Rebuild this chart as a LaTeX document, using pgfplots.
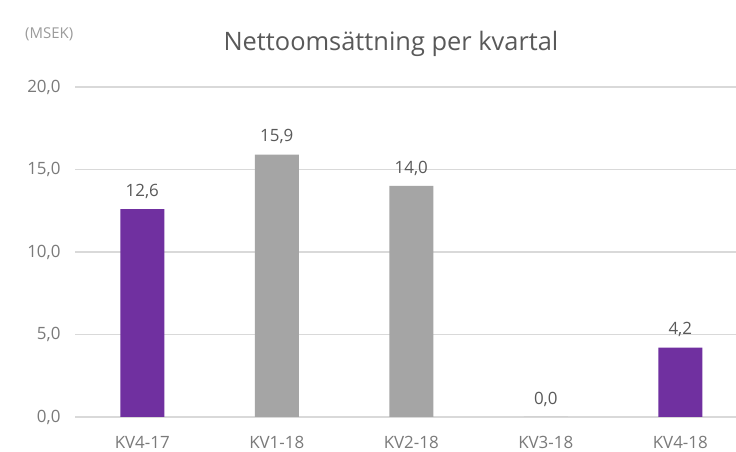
\documentclass[border=0pt]{standalone}
\usepackage{pgfplots}
\pgfplotsset{compat=1.18}
\usepackage{fontspec}
\setmainfont{Open Sans}
\definecolor{purp}{HTML}{7030A0}
\definecolor{gbar}{HTML}{A5A5A5}
\definecolor{txt}{HTML}{595959}
\definecolor{ticktxt}{HTML}{7A7A7A}
\definecolor{gridc}{HTML}{D9D9D9}
\begin{document}
\begin{tikzpicture}[x=1bp,y=1bp]
\useasboundingbox (0,0) rectangle (736,452);
\clip (0,0) rectangle (736,452);
\fill[white] (0,0) rectangle (736,452);
\begin{axis}[
  at={(142.25bp,35bp)}, anchor=origin,
  scale only axis, width=672.5bp, height=330bp,
  xmin=-0.5, xmax=4.5, ymin=0, ymax=20,
  axis line style={draw=none},
  ytick={0,5,10,15,20},
  ymajorgrids, xmajorgrids=false, grid style={draw=gridc, line width=1.3pt},
  major tick length=0pt,
  xtick={0,1,2,3,4},
  xticklabels={KV4-17,KV1-18,KV2-18,KV3-18,KV4-18},
  tick label style={font=\fontsize{17}{20}\selectfont, text=ticktxt},
  yticklabel style={anchor=east, xshift=-11bp},
  xticklabel style={anchor=center, yshift=-25bp},
  /pgf/number format/.cd, assume math mode=true, use comma, fixed, fixed zerofill, precision=1,
]
\addplot[ybar, bar width=44bp, fill=purp, draw=none,
  nodes near coords, every node near coord/.append style={font=\fontsize{17}{20}\selectfont, text=txt, anchor=center, yshift=18bp},
  point meta=explicit]
  coordinates {(0,12.6) [12.6] (4,4.2) [4.2]};
\addplot[ybar, bar width=44bp, fill=gbar, draw=none,
  nodes near coords, every node near coord/.append style={font=\fontsize{17}{20}\selectfont, text=txt, anchor=center, yshift=18bp},
  point meta=explicit]
  coordinates {(1,15.9) [15.9] (2,14.0) [14.0] (3,0.0) [0.0]};
\end{axis}
\node[text=txt, font=\fontsize{25.5}{30}\selectfont] at (391,408) {Nettoomsättning per kvartal};
\node[text=txt!60, font=\fontsize{15}{18}\selectfont, anchor=west, inner sep=0pt] at (25,418) {(MSEK)};
\end{tikzpicture}
\end{document}
